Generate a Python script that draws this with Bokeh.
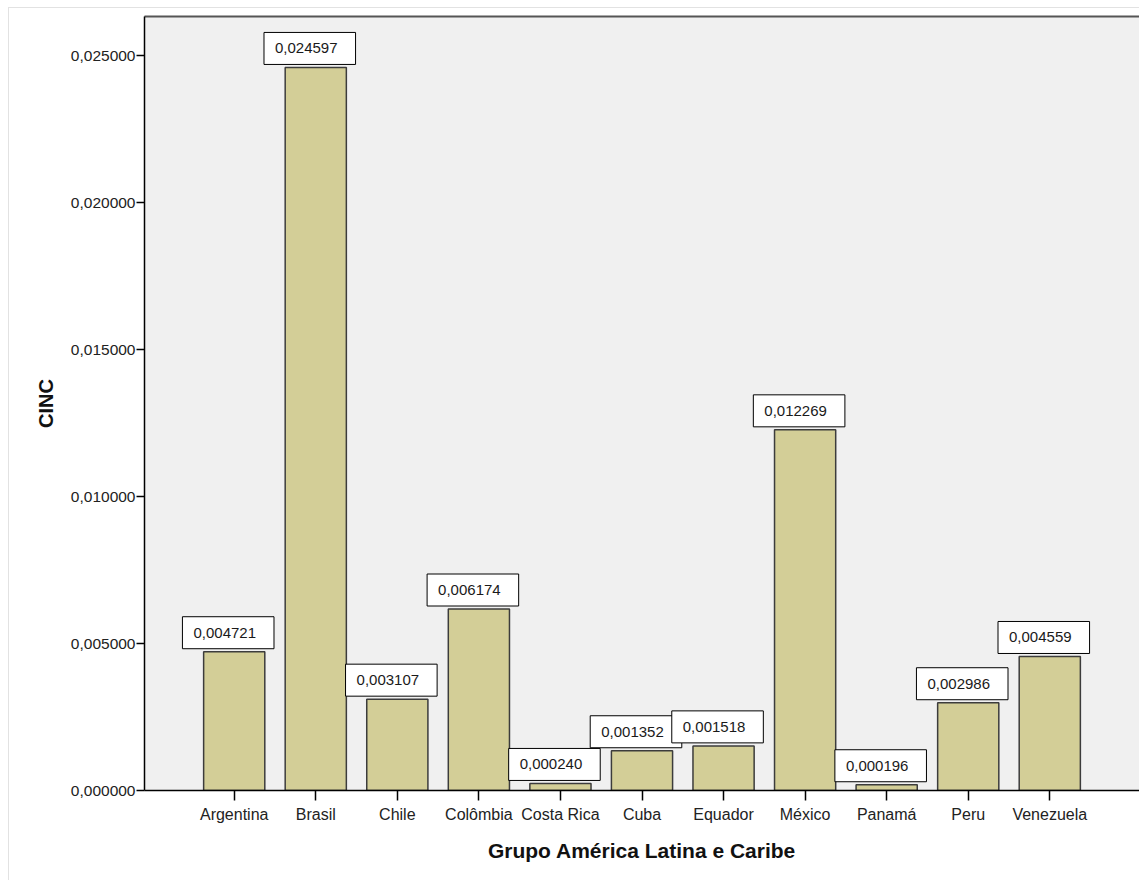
from bokeh.plotting import figure
from bokeh.models import ColumnDataSource, Range1d, FixedTicker, CategoricalAxis
from bokeh.core.properties import value
from bokeh.embed import file_html
from bokeh.resources import INLINE

# data
countries = ["Argentina", "Brasil", "Chile", "Colômbia", "Costa Rica", "Cuba",
             "Equador", "México", "Panamá", "Peru", "Venezuela"]
cinc = [0.004721, 0.024597, 0.003107, 0.006174, 0.000240, 0.001352,
        0.001518, 0.012269, 0.000196, 0.002986, 0.004559]
y_ticks = [0.0, 0.005, 0.010, 0.015, 0.020, 0.025]
y_tick_labels = ["0,000000", "0,005000", "0,010000", "0,015000", "0,020000", "0,025000"]

labels = [("%.6f" % v).replace(".", ",") for v in cinc]
source = ColumnDataSource(data=dict(country=countries, value=cinc, label=labels))

p = figure(x_range=countries, y_range=Range1d(0, 0.02633), width=1139, height=880,
           output_backend="svg", toolbar_location=None, tools="")
p.x_range.range_padding = 0.6
p.x_range.range_padding_units = "absolute"

p.min_border_left = 144
p.min_border_right = 0
p.min_border_top = 16
p.min_border_bottom = 90

# faint outer frame of the exported chart, drawn as css background lines
p.border_fill_color = None
p.styles = {"background": "linear-gradient(#e2e2e2, #e2e2e2) 8px 7px / 1px 100% no-repeat, "
                          "linear-gradient(#e2e2e2, #e2e2e2) 8px 7px / 100% 1px no-repeat, white"}

p.background_fill_color = "#f0f0f0"
p.outline_line_color = None
p.grid.grid_line_color = None

p.vbar(x="country", top="value", width=0.75, source=source,
       fill_color="#d3ce97", line_color="#3c3c3c", line_width=1.5)

# value boxes above the bars
p.text(x="country", y="value", text="label", source=source,
       x_offset=-6, y_offset=-3, text_align="center", text_baseline="bottom",
       text_font=value("Liberation Sans"), text_font_size="15px", text_color="#1a1a1a",
       background_fill_color="white", border_line_color="black", border_line_width=1,
       padding=dict(left=11, right=18, top=11, bottom=11))

# axes
xaxis = p.below[0]
yaxis = p.left[0]

yaxis.ticker = FixedTicker(ticks=y_ticks)
yaxis.major_label_overrides = dict(zip(y_ticks, y_tick_labels))
yaxis.minor_tick_line_color = None
yaxis.major_tick_in = 0
yaxis.major_tick_out = 8
yaxis.major_label_standoff = 1
yaxis.axis_label = "CINC"
yaxis.axis_label_standoff = 11

xaxis.major_tick_in = 0
xaxis.major_tick_out = 10
xaxis.major_label_standoff = 5
xaxis.axis_label = "Grupo América Latina e Caribe"
xaxis.axis_label_standoff = 13

for ax in (xaxis, yaxis):
    ax.axis_line_color = "black"
    ax.axis_line_width = 1.5
    ax.major_tick_line_color = "black"
    ax.major_tick_line_width = 1.5
    ax.major_label_text_font = "Liberation Sans"
    ax.major_label_text_color = "#222222"
    ax.axis_label_text_font = "Liberation Sans"
    ax.axis_label_text_font_style = "bold"
    ax.axis_label_text_color = "#111111"

xaxis.major_label_text_font_size = "16px"
yaxis.major_label_text_font_size = "15.5px"
xaxis.axis_label_text_font_size = "21px"
yaxis.axis_label_text_font_size = "20px"

# top edge of the plot frame
top = CategoricalAxis(major_tick_line_color=None, minor_tick_line_color=None,
                      major_label_text_font_size="0px", major_label_text_color=None,
                      major_label_standoff=0, axis_line_color="#555555", axis_line_width=2)
p.add_layout(top, "above")

open("out.html", "w").write(file_html(p, INLINE))
